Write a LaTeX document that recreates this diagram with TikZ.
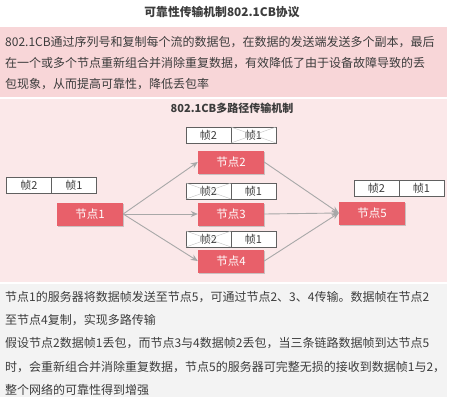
\documentclass[tikz,border=0pt]{standalone}
\usepackage{fontspec}
\setmainfont{Noto Sans CJK SC}
\usetikzlibrary{arrows.meta, positioning, shadows}

\definecolor{nodered}{HTML}{E8606A}
\definecolor{pinkdark}{HTML}{F8D6D8}
\definecolor{pinklight}{HTML}{FBE8E9}
\definecolor{panelgray}{HTML}{F3F3F3}
\definecolor{textgray}{HTML}{3C3C3C}
\definecolor{linkgray}{HTML}{A8A8A8}
\definecolor{framegray}{HTML}{606060}

\begin{document}
\begin{tikzpicture}[x=1pt, y=-1pt,
  station/.style={rectangle, fill=nodered, text=white, minimum width=66pt, minimum height=23pt,
    inner sep=0pt, font=\fontsize{11.5}{12}\selectfont,
    drop shadow={shadow xshift=1.3pt, shadow yshift=-1.3pt, fill=black!40, opacity=0.5}},
  cell/.style={rectangle, draw=framegray, fill=white, minimum width=45pt, minimum height=16pt,
    inner sep=0pt, outer sep=0pt, text=textgray, font=\fontsize{11}{12}\selectfont},
  lost/.style={draw=linkgray!70, line width=0.4pt},
  link/.style={-{Stealth[length=7pt, width=6pt]}, draw=linkgray, line width=0.9pt},
  para/.style={anchor=north west, inner sep=0pt, align=left, text=textgray}
]
  \useasboundingbox (0,0) rectangle (449,400);

  % panels
  \fill[pinkdark] (0,27) rectangle (447,97);
  \fill[pinklight] (0,99) rectangle (447,282);
  \fill[panelgray] (0,284) rectangle (447,397);

  % titles
  \node[text=textgray, font=\fontsize{11.8}{12}\selectfont\bfseries] (title) at (222,12) {可靠性传输机制802.1CB协议};
  \node[text=textgray, font=\fontsize{11}{12}\selectfont\bfseries] (subtitle) at (232,108) {802.1CB多路径传输机制};

  % description
  \node[para, font=\fontsize{12}{21}\selectfont] (intro) at (5,36)
    {802.1CB通过序列号和复制每个流的数据包，在数据的发送端发送多个副本，最后\\
     在一个或多个节点重新组合并消除重复数据，有效降低了由于设备故障导致的丢\\
     包现象，从而提高可靠性，降低丢包率};

  % stations
  \node[station] (n1) at (90,214) {节点1};
  \node[station] (n2) at (231,162) {节点2};
  \node[station] (n3) at (231,214) {节点3};
  \node[station] (n4) at (231,261) {节点4};
  \node[station] (n5) at (372,213) {节点5};

  % frames
  \node[cell] (f1b) at (29,185.5) {帧2};
  \node[cell, right=0pt of f1b] (f1a) {帧1};
  \node[cell] (f2b) at (208.5,135) {帧2};
  \node[cell, right=0pt of f2b] (f2a) {帧1};
  \node[cell] (f3b) at (208.5,191) {帧2};
  \node[cell, right=0pt of f3b] (f3a) {帧1};
  \node[cell] (f4b) at (208.5,239) {帧2};
  \node[cell, right=0pt of f4b] (f4a) {帧1};
  \node[cell] (f5b) at (376.5,188.5) {帧2};
  \node[cell, right=0pt of f5b] (f5a) {帧1};

  % lost frames
  \draw[lost] (f2a.north west) -- (f2a.south east) (f2a.south west) -- (f2a.north east);
  \draw[lost] (f3b.north west) -- (f3b.south east) (f3b.south west) -- (f3b.north east);
  \draw[lost] (f4b.north west) -- (f4b.south east) (f4b.south west) -- (f4b.north east);

  % links
  \draw[link] (n1.east) -- (n2.west);
  \draw[link] (n1.east) -- (n3.west);
  \draw[link] (n1.east) -- (n4.west);
  \draw[link] (n2.east) -- (n5.west);
  \draw[link] (n3.east) -- (n5.west);
  \draw[link] (n4.east) -- (n5.west);

  % explanation
  \node[para, font=\fontsize{12}{23.3}\selectfont] (notes) at (5,291)
    {节点1的服务器将数据帧发送至节点5，可通过节点2、3、4传输。数据帧在节点2\\
     至节点4复制，实现多路传输\\
     假设节点2数据帧1丢包，而节点3与4数据帧2丢包，当三条链路数据帧到达节点5\\
     时，会重新组合并消除重复数据，节点5的服务器可完整无损的接收到数据帧1与2，\\
     整个网络的可靠性得到增强};
\end{tikzpicture}
\end{document}
